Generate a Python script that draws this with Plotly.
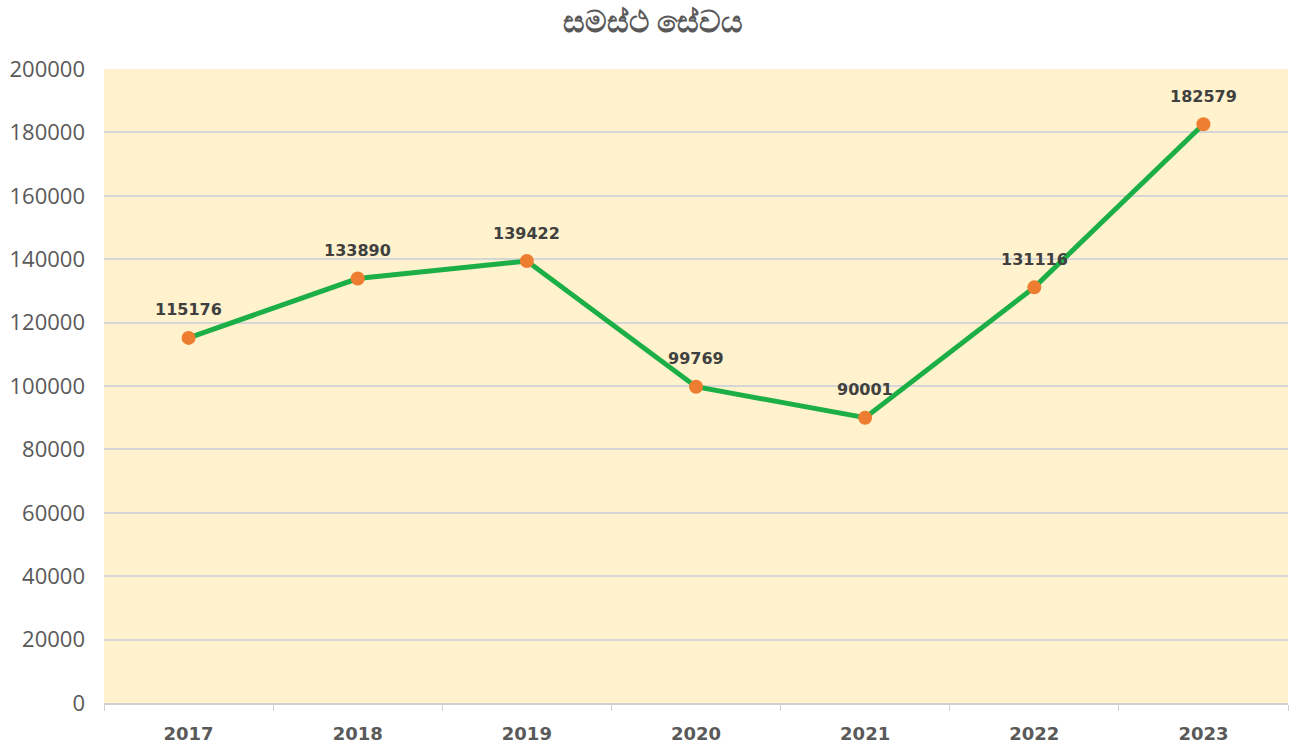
import plotly.graph_objects as go

years = ["2017", "2018", "2019", "2020", "2021", "2022", "2023"]
values = [115176, 133890, 139422, 99769, 90001, 131116, 182579]
title_text = "සමස්ථ සේවය"

fig = go.Figure()
fig.add_trace(go.Scatter(
    x=years, y=values, mode="lines+markers",
    line=dict(color="#1DAF47", width=5),
    marker=dict(color="#ED7D31", size=14),
    hoverinfo="x+y", showlegend=False,
))

for i, v in enumerate(values):
    fig.add_annotation(x=i, y=v, xref="x", yref="y", text=f"<b>{v}</b>", showarrow=False,
                       yshift=28, font=dict(family="DejaVu Sans", size=16, color="#404040"))

fig.update_layout(
    width=1293, height=745,
    margin=dict(l=104, r=5, t=69, b=42, autoexpand=False),
    paper_bgcolor="white",
    plot_bgcolor="#FFF2CC",
    title=dict(text="<b>" + title_text + "</b>", x=0.505, xanchor="center", xref="container",
               y=0.971, yanchor="middle", yref="container",
               font=dict(family="Noto Sans, DejaVu Sans", size=30, color="#595959")),
    xaxis=dict(
        type="category", tickson="boundaries", ticks="outside", ticklen=6,
        tickcolor="#D0D0D0", showline=True, linecolor="#D0D0D0", linewidth=1.5,
        showgrid=False, zeroline=False, ticklabelstandoff=14, automargin=False,
        tickfont=dict(family="DejaVu Sans", size=18, color="#595959", weight="bold"),
        range=[-0.5, 6.5],
    ),
    yaxis=dict(
        range=[0, 200000], tickvals=list(range(0, 200001, 20000)),
        showgrid=True, gridcolor="#D6D6D6", gridwidth=1.5, zeroline=False,
        showline=False, ticks="", tickformat="d", ticklabelstandoff=18, automargin=False,
        tickfont=dict(family="Open Sans, Liberation Sans", size=22, color="#595959"),
    ),
)

fig.write_html(
    "out.html",
    config={"displayModeBar": False},
    post_script="document.body.style.margin='0';document.body.style.overflow='hidden';",
)
